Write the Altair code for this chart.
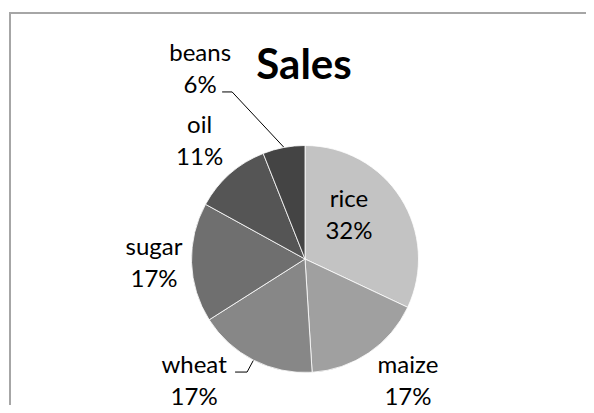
import altair as alt
import pandas as pd

# ---------------- data ----------------
categories = ["rice", "maize", "wheat", "sugar", "oil", "beans"]
values = [32, 17, 17, 17, 11, 6]
title_text = "Sales"

# ---------------- style ----------------
slice_colors = ["#c3c3c3", "#a0a0a0", "#878787", "#6f6f6f", "#555555", "#444444"]
FONT = "Lato"

# ---------------- layout (chart pixels) ----------------
W, H = 578, 397
CX, CY, R = 297, 251, 113.5
TITLE_X, TITLE_Y = 296, 71
# label anchor in polar form around the pie centre: (radius px, angle nudge from slice mid, degrees)
label_layout = {
    "rice": (68.1, -17.4),
    "maize": (153.6, -7.9),
    "wheat": (159.1, 17.2),
    "sugar": (151.0, 3.3),
    "oil": (164.3, 1.5),
    "beans": (224.1, -17.1),
}
# leader lines: offsets from label anchor (tail dx, tail dy, elbow dx, elbow dy)
leader_layout = {
    "beans": (22, 31, 32, 31),
    "wheat": (41, -1, 53, -1),
}

df = pd.DataFrame({"category": categories, "value": values,
                   "order": list(range(len(categories)))})
df["lr"] = [label_layout[c][0] for c in categories]
df["ln"] = [label_layout[c][1] for c in categories]
for i, col in enumerate(["tdx", "tdy", "bdx", "bdy"]):
    df[col] = [leader_layout[c][i] if c in leader_layout else None for c in categories]

base = alt.Chart(df).transform_joinaggregate(
    total="sum(value)"
).transform_window(
    cum="sum(value)", sort=[alt.SortField("order", order="ascending")]
).transform_calculate(
    mid="2*PI*(datum.cum - datum.value/2)/datum.total",
    pct="format(datum.value/datum.total, '.0%')",
).transform_calculate(
    label="datum.category + '\\n' + datum.pct",
    la="datum.mid + datum.ln*PI/180",
    ex=f"{CX} + {R + 0.5}*sin(datum.mid)",
    ey=f"{CY} - {R + 0.5}*cos(datum.mid)",
).transform_calculate(
    lx=f"{CX} + datum.lr*sin(datum.la)",
    ly=f"{CY} - datum.lr*cos(datum.la)",
)

pie = alt.Chart(df).mark_arc(outerRadius=R, stroke="white", strokeWidth=0.8).encode(
    theta=alt.Theta("value:Q", stack=True),
    order=alt.Order("order:Q"),
    color=alt.Color("category:N", scale=alt.Scale(domain=categories, range=slice_colors),
                    legend=None),
    x=alt.value(CX),
    y=alt.value(CY),
)

labels = base.mark_text(font=FONT, fontSize=24, lineHeight=32, lineBreak="\n",
                        align="center", baseline="alphabetic", color="#000000").encode(
    x=alt.X("lx:Q", scale=None, axis=None),
    y=alt.Y("ly:Q", scale=None, axis=None),
    text="label:N",
)

lead = base.transform_filter("isValid(datum.tdx)").transform_calculate(
    tx="datum.lx + datum.tdx", ty="datum.ly + datum.tdy",
    bx="datum.lx + datum.bdx", by="datum.ly + datum.bdy",
)
seg1 = lead.mark_rule(color="#000000", strokeWidth=1).encode(
    x=alt.X("tx:Q", scale=None, axis=None), y=alt.Y("ty:Q", scale=None, axis=None),
    x2="bx:Q", y2="by:Q",
)
seg2 = lead.mark_rule(color="#000000", strokeWidth=1).encode(
    x=alt.X("bx:Q", scale=None, axis=None), y=alt.Y("by:Q", scale=None, axis=None),
    x2="ex:Q", y2="ey:Q",
)

one = pd.DataFrame({"t": [title_text]})
frame_top = alt.Chart(one).mark_rule(color="#a6a6a6", strokeWidth=2).encode(
    x=alt.value(1), x2=alt.value(W + 20), y=alt.value(5))
frame_left = alt.Chart(one).mark_rule(color="#a6a6a6", strokeWidth=2).encode(
    x=alt.value(2), y=alt.value(4), y2=alt.value(H + 20))

title = alt.Chart(one).mark_text(font=FONT, fontSize=42, fontWeight="bold",
                                 align="center", baseline="alphabetic",
                                 color="#000000").encode(
    x=alt.value(TITLE_X), y=alt.value(TITLE_Y), text="t:N")

chart = alt.layer(frame_top, frame_left, pie, seg1, seg2, labels, title).properties(
    width=W, height=H, padding=0, autosize="none",
).configure_view(stroke="transparent", strokeWidth=0)

chart.save("out.html", embed_options={"renderer": "svg", "actions": False})
